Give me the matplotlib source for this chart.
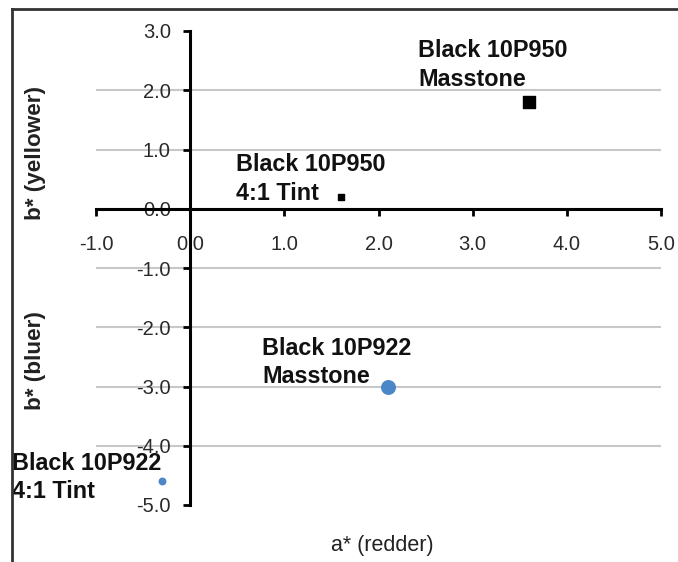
import numpy as np
import matplotlib.pyplot as plt
from matplotlib.lines import Line2D

plt.rcParams['font.family'] = ['Liberation Sans', 'DejaVu Sans']

# data
names = ['Black 10P950\nMasstone', 'Black 10P950\n4:1 Tint',
         'Black 10P922\nMasstone', 'Black 10P922\n4:1 Tint']
a_vals = [3.6, 1.6, 2.1, -0.3]
b_vals = [1.8, 0.2, -3.0, -4.6]
x_ticks = [-1.0, 0.0, 1.0, 2.0, 3.0, 4.0, 5.0]
y_ticks = [3.0, 2.0, 1.0, 0.0, -1.0, -2.0, -3.0, -4.0, -5.0]

W, H = 678, 562
fig = plt.figure(figsize=(W / 100, H / 100), dpi=100)
ax = fig.add_axes([96 / W, 1 - 505 / H, (661 - 96) / W, (505 - 31) / H])

ax.set_xlim(-1, 5)
ax.set_ylim(-5, 3)

# gridlines (not at the ends)
for y in y_ticks[1:-1]:
    ax.axhline(y, color='#c8c8c8', lw=1.5, zorder=0)

# axes crossing at origin
for s in ['top', 'right']:
    ax.spines[s].set_visible(False)
ax.spines['left'].set_position(('data', 0))
ax.spines['bottom'].set_position(('data', 0))
ax.spines['left'].set_linewidth(2.2)
ax.spines['bottom'].set_linewidth(2.2)

ax.set_xticks(x_ticks)
ax.set_yticks(y_ticks)
ax.set_xticklabels(['%.1f' % v for v in x_ticks])
ax.set_yticklabels(['%.1f' % v for v in y_ticks])
ax.tick_params(axis='x', direction='out', length=5, width=2, pad=14,
               labelsize=14.5, labelcolor='#2a2a2a')
ax.tick_params(axis='y', direction='out', length=5, width=2, pad=9,
               labelsize=14.5, labelcolor='#2a2a2a')

blue = '#4a86c8'
styles = [('s', 'black', 74), ('s', 'black', 20),
          ('o', blue, 95), ('o', blue, 22)]
offsets = [(-111, 37), (-105, 18), (-126, 24), (-150, 4)]

for i in range(len(names)):
    m, c, s = styles[i]
    ax.scatter(a_vals[i], b_vals[i], marker=m, color=c, s=s, zorder=5,
               clip_on=False)
    ax.annotate(names[i], (a_vals[i], b_vals[i]), xytext=offsets[i],
                textcoords='offset pixels', ha='left', va='center',
                fontsize=16.8, fontweight='bold', color='#111111',
                linespacing=1.3, annotation_clip=False)

fig.text(35 / W, 1 - 153 / H, 'b* (yellower)', rotation=90, ha='center',
         va='center', fontsize=16.2, fontweight='bold', color='#222222')
fig.text(35 / W, 1 - 361 / H, 'b* (bluer)', rotation=90, ha='center',
         va='center', fontsize=16.2, fontweight='bold', color='#222222')
fig.text(382 / W, 1 - 545 / H, 'a* (redder)', ha='center', va='center',
         fontsize=15.5, color='#222222')

# outer border of the chart area
fig.add_artist(Line2D([12 / W, 12 / W], [-0.1, 1 - 9 / H],
                      transform=fig.transFigure, color='#333333', lw=2))
fig.add_artist(Line2D([12 / W, 1.1], [1 - 9 / H, 1 - 9 / H],
                      transform=fig.transFigure, color='#333333', lw=2))

fig.savefig('out.png', dpi=100)
